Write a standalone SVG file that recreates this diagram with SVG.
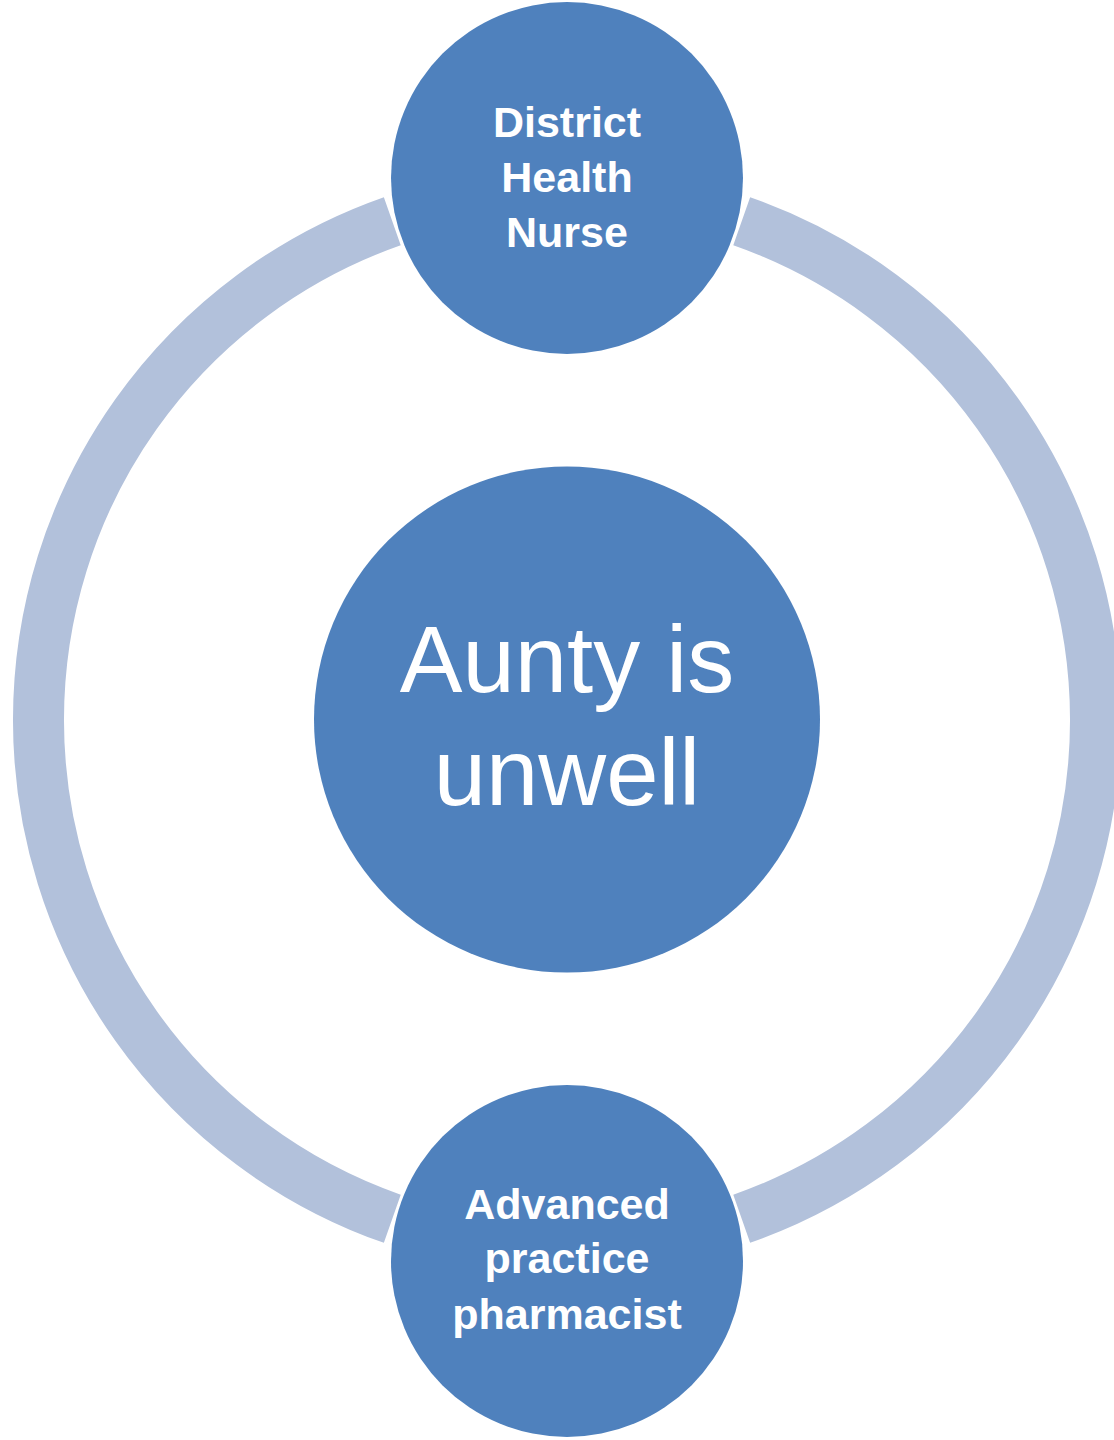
<svg xmlns="http://www.w3.org/2000/svg" width="1114" height="1440" viewBox="0 0 1114 1440">
  <style>
    .ring { fill: none; stroke: #B2C1DB; stroke-width: 51; stroke-linecap: butt; }
    .node { fill: #4F81BD; }
    .label { fill: #FFFFFF; font-family: "Liberation Sans", Arial, sans-serif; font-weight: bold; font-size: 43px; text-anchor: middle; }
    .center-label { fill: #FFFFFF; font-family: "Liberation Sans", Arial, sans-serif; font-size: 94px; text-anchor: middle; }
  </style>
  <rect width="1114" height="1440" fill="#FFFFFF"/>

  <!-- cycle ring, split into two arcs between the outer nodes -->
  <g id="connectors">
    <path class="ring" d="M 392.3 221.2 A 528.5 528.5 0 0 0 392.3 1218.8"/>
    <path class="ring" d="M 741.7 221.2 A 528.5 528.5 0 0 1 741.7 1218.8"/>
  </g>

  <g id="center">
    <circle class="node" cx="567" cy="719.5" r="253"/>
    <text class="center-label" x="567" y="692">Aunty is</text>
    <text class="center-label" x="567" y="805">unwell</text>
  </g>

  <g id="district-health-nurse">
    <circle class="node" cx="567" cy="178" r="176"/>
    <text class="label" x="567" y="137">District</text>
    <text class="label" x="567" y="192">Health</text>
    <text class="label" x="567" y="247">Nurse</text>
  </g>

  <g id="advanced-practice-pharmacist">
    <circle class="node" cx="567" cy="1261" r="176"/>
    <text class="label" x="567" y="1219">Advanced</text>
    <text class="label" x="567" y="1273">practice</text>
    <text class="label" x="567" y="1329">pharmacist</text>
  </g>
</svg>
